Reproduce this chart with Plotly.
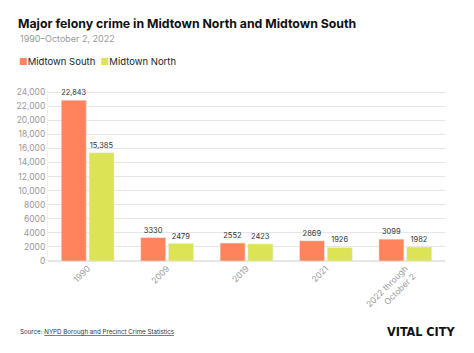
import plotly.graph_objects as go

categories = ["1990", "2009", "2019", "2021", "2022 through<br>October 2"]
midtown_south = [22843, 3330, 2552, 2869, 3099]
midtown_north = [15385, 2479, 2423, 1926, 1982]
south_labels = ["22,843", "3330", "2552", "2869", "3099"]
north_labels = ["15,385", "2479", "2423", "1926", "1982"]
tick_vals = [0, 2000, 4000, 6000, 8000, 10000, 12000, 14000, 16000, 18000, 20000, 22000, 24000]
tick_text = ["0", "2000", "4000", "6000", "8000", "10,000", "12,000", "14,000", "16,000",
             "18,000", "20,000", "22,000", "24,000"]

W, H = 474, 353
ML, MR, MT, MB = 48, 29, 90, 92
FONT = "Inter, Roboto, 'Noto Sans', sans-serif"
SOUTH_C = "#FF845C"
NORTH_C = "#DCE354"

fig = go.Figure()
fig.add_bar(name="Midtown South", x=categories, y=midtown_south, text=south_labels,
            textposition="outside", marker_color=SOUTH_C, cliponaxis=False,
            textfont=dict(size=7.5, color="#333"))
fig.add_bar(name="Midtown North", x=categories, y=midtown_north, text=north_labels,
            textposition="outside", marker_color=NORTH_C, cliponaxis=False,
            textfont=dict(size=7.5, color="#333"))

pw = W - ML - MR
ph = H - MT - MB

def px(x):
    return (x - ML) / pw

def py(y):
    return (H - MB - y) / ph

legend_text = (f"<span style='color:{SOUTH_C}'>■</span>Midtown South  "
               f"<span style='color:{NORTH_C}'>■</span>Midtown North")

fig.update_layout(
    width=W, height=H,
    margin=dict(l=ML, r=MR, t=MT, b=MB),
    paper_bgcolor="white", plot_bgcolor="white",
    font=dict(family=FONT, color="#333"),
    barmode="group", bargap=0.3, bargroupgap=0.1,
    showlegend=False,
    title=dict(text="<b>Major felony crime in Midtown North and Midtown South</b>",
               xref="container", yref="container", x=18 / W, y=1 - 24 / H,
               xanchor="left", yanchor="middle", font=dict(size=12.3, color="#111")),
    xaxis=dict(tickangle=-45, tickfont=dict(size=8.5, color="#999"), showgrid=False,
               showline=False, ticks=""),
    yaxis=dict(range=[0, 24300], tickvals=tick_vals, ticktext=tick_text,
               tickfont=dict(size=8.5, color="#999"), gridcolor="#e6e6e6", gridwidth=1,
               showline=True, linecolor="#eef2f5", zeroline=True, zerolinecolor="#e6e6e6",
               ticks=""),
    annotations=[
        dict(text="1990–October 2, 2022", xref="paper", yref="paper", x=px(18), y=py(39),
             xanchor="left", yanchor="middle", showarrow=False,
             font=dict(size=9, color="#999")),
        dict(text=legend_text, xref="paper", yref="paper", x=px(17), y=py(61),
             xanchor="left", yanchor="middle", showarrow=False,
             font=dict(size=9.5, color="#222")),
        dict(text="Source: <u>NYPD Borough and Precinct Crime Statistics</u>", xref="paper",
             yref="paper", x=px(18), y=py(332), xanchor="left", yanchor="middle",
             showarrow=False, font=dict(size=6.2, color="#333")),
        dict(text="VITAL CITY", xref="paper", yref="paper", x=px(457), y=py(331),
             xanchor="right", yanchor="middle", showarrow=False,
             font=dict(size=12.5, color="#111", weight="bold",
                       family="DejaVu Sans Condensed")),
    ],
)

fig.write_html("out.html")
